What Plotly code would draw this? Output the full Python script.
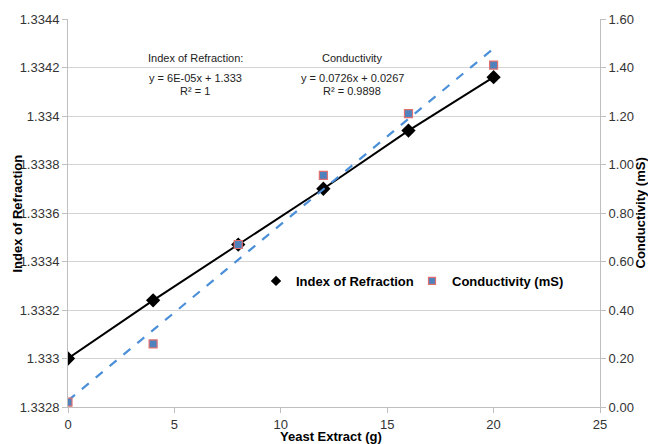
import plotly.graph_objects as go

# ---- data ----
yeast_g = [0, 4, 8, 12, 16, 20]
index_refraction = [1.3330, 1.33324, 1.33347, 1.33370, 1.33394, 1.33416]
conductivity_ms = [0.02, 0.26, 0.67, 0.955, 1.21, 1.41]
cond_trend_slope = 0.0726
cond_trend_intercept = 0.0267
trend_x = [0, 20]

left_ticks = [1.3328, 1.3330, 1.3332, 1.3334, 1.3336, 1.3338, 1.3340, 1.3342, 1.3344]
left_ticktext = ["1.3328", "1.333", "1.3332", "1.3334", "1.3336", "1.3338", "1.334", "1.3342", "1.3344"]
right_ticks = [0.0, 0.2, 0.4, 0.6, 0.8, 1.0, 1.2, 1.4, 1.6]
x_ticks = [0, 5, 10, 15, 20, 25]

FONT = "Liberation Sans, Arial, sans-serif"
GRID = "#d4d4d4"
AXIS = "#bfbfbf"
L, R, T, B = 68, 600, 19, 410
PW, PH = R - L, B - T


def px(x):
    return (x - L) / PW


def py(y):
    return (B - y) / PH


fig = go.Figure()

fig.add_trace(go.Scatter(
    x=trend_x, y=[cond_trend_slope * v + cond_trend_intercept for v in trend_x],
    mode="lines", yaxis="y2", showlegend=False,
    line=dict(color="#4a8fd8", width=2.2, dash="dash"), hoverinfo="skip"))

fig.add_trace(go.Scatter(
    x=yeast_g, y=index_refraction, name="Index of Refraction",
    mode="lines+markers", showlegend=False,
    line=dict(color="black", width=2),
    marker=dict(symbol="diamond", size=11, color="black")))

fig.add_trace(go.Scatter(
    x=yeast_g, y=conductivity_ms, name="Conductivity (mS)", yaxis="y2",
    mode="markers", showlegend=False,
    marker=dict(symbol="square", size=8, color="#4f81bd",
                line=dict(color="#e07070", width=1.2))))

# legend entries (marker only, small symbols like the reference)
fig.add_trace(go.Scatter(
    x=[None], y=[None], name="Index of Refraction", mode="markers",
    marker=dict(symbol="diamond", size=8, color="black")))
fig.add_trace(go.Scatter(
    x=[None], y=[None], name="Conductivity (mS)", mode="markers", yaxis="y2",
    marker=dict(symbol="square", size=7, color="#4f81bd",
                line=dict(color="#e07070", width=1.2))))

fig.update_layout(
    width=648, height=444,
    margin=dict(l=L, r=648 - R, t=T, b=444 - B),
    paper_bgcolor="white", plot_bgcolor="white",
    font=dict(family=FONT, size=13, color="#333333"),
    xaxis=dict(range=[0, 25], tickvals=x_ticks, showgrid=False, zeroline=False,
               showline=True, linecolor=AXIS, linewidth=1,
               ticks="outside", ticklen=5, tickcolor=AXIS,
               tickfont=dict(size=13, color="#333333")),
    yaxis=dict(range=[1.3328, 1.3344], tickvals=left_ticks, ticktext=left_ticktext,
               showgrid=True, gridcolor=GRID, zeroline=False,
               showline=True, linecolor=AXIS, linewidth=1,
               ticks="outside", ticklen=5, tickcolor=AXIS,
               tickfont=dict(size=13, color="#333333")),
    yaxis2=dict(range=[0, 1.6], tickvals=right_ticks, tickformat=".2f",
                overlaying="y", side="right", showgrid=False, zeroline=False,
                showline=True, linecolor=AXIS, linewidth=1,
                ticks="outside", ticklen=5, tickcolor=AXIS,
                tickfont=dict(size=13, color="#333333")),
    legend=dict(orientation="h", x=px(256), y=py(283), xanchor="left", yanchor="middle",
                font=dict(size=13, color="black", family=FONT, weight="bold"),
                bgcolor="rgba(0,0,0,0)", itemwidth=30,
                entrywidth=111, entrywidthmode="pixels"),
    showlegend=True,
)

ann_font = dict(family=FONT, size=11, color="#222222")
annots = [
    ("Index of Refraction:", 195, 58),
    ("y = 6E-05x + 1.333", 195, 78),
    ("R² = 1", 195, 92),
    ("Conductivity", 352, 58),
    ("y = 0.0726x + 0.0267", 352, 78),
    ("R² = 0.9898", 352, 92),
]
for text, ax, ay in annots:
    fig.add_annotation(text=text, xref="paper", yref="paper",
                       x=px(ax), y=py(ay),
                       showarrow=False, font=ann_font, xanchor="center", yanchor="middle")

title_font = dict(family=FONT, size=13, color="black", weight="bold")
fig.add_annotation(text="Index of Refraction", xref="paper", yref="paper",
                   x=px(17), y=py(215), textangle=-90,
                   showarrow=False, font=title_font, xanchor="center", yanchor="middle")
fig.add_annotation(text="Conductivity (mS)", xref="paper", yref="paper",
                   x=px(640), y=py(215), textangle=-90,
                   showarrow=False, font=title_font, xanchor="center", yanchor="middle")
fig.add_annotation(text="Yeast Extract (g)", xref="paper", yref="paper",
                   x=px(331), y=py(440),
                   showarrow=False, font=title_font, xanchor="center", yanchor="middle")

fig.write_html("out.html")
